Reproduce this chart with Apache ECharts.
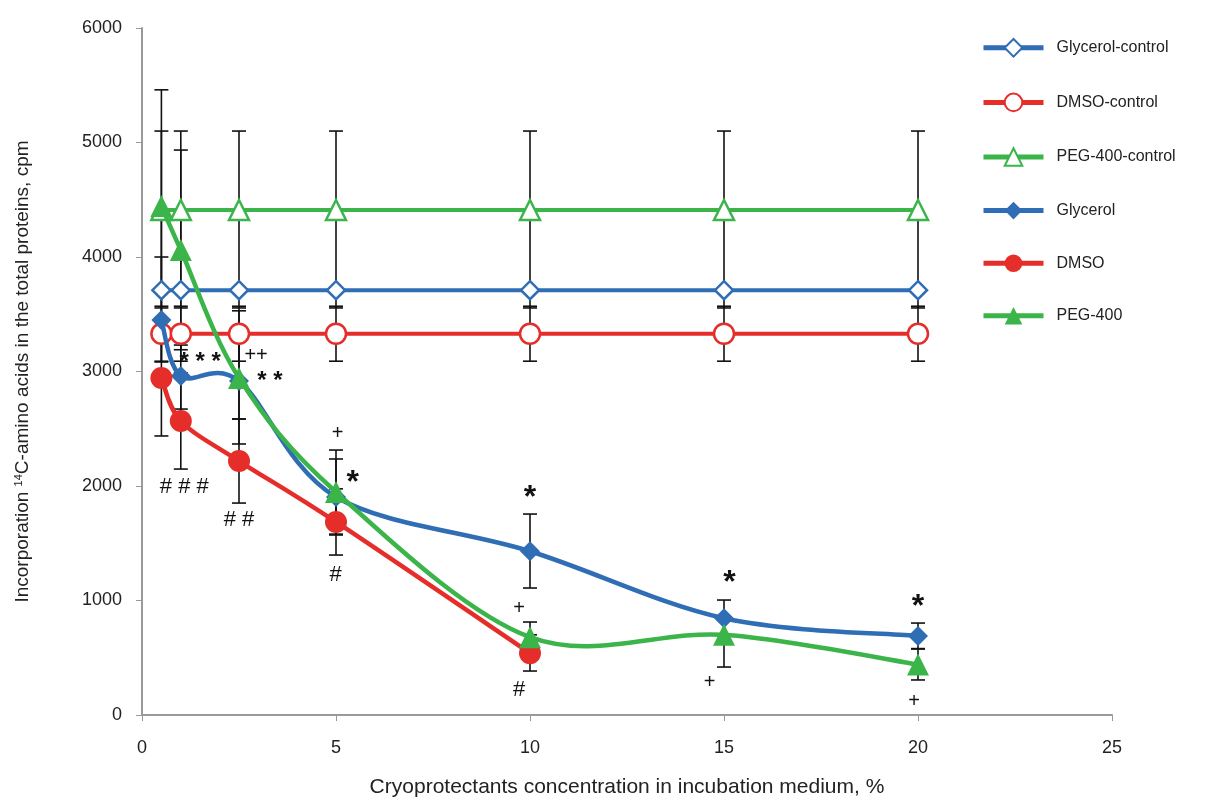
<!DOCTYPE html>
<html><head><meta charset="utf-8">
<script src="https://cdn.jsdelivr.net/npm/echarts@6/dist/echarts.min.js"></script>
<style>html,body{margin:0;padding:0;background:#fff}#c{width:1217px;height:803px}</style>
</head><body><div id="c"></div>
<script>
// ---- data ----
const xsAll = [0.5, 1, 2.5, 5, 10, 15, 20];
const xsDmso = [0.5, 1, 2.5, 5, 10];
const glycerolControl = [3710, 3710, 3710, 3710, 3710, 3710, 3710];
const dmsoControl = [3330, 3330, 3330, 3330, 3330, 3330, 3330];
const pegControl = [4410, 4410, 4410, 4410, 4410, 4410, 4410];
const glycerol = [3450, 2960, 2917, 1904, 1430, 845, 690];
const dmso = [2943, 2568, 2218, 1686, 540];
const peg = [4445, 4061, 2943, 1948, 680, 700, 440];

// error bars: [x, low, high]
const errGlycerolControl = [[0.5,3555,3710],[1,3555,3710],[2.5,3555,3710],[5,3555,3710],[10,3555,3710],[15,3555,3710],[20,3555,3710]];
const errDmsoControl = [[0.5,3090,3570],[1,3090,3570],[2.5,3090,3570],[5,3090,3570],[10,3090,3570],[15,3090,3570],[20,3090,3570]];
const errPegControl = [[0.5,3720,5100],[1,3720,5100],[2.5,3720,5100],[5,3720,5100],[10,3720,5100],[15,3720,5100],[20,3720,5100]];
const errGlycerol = [[0.5,3083,4000],[1,2672,3231],[2.5,2367,3530],[5,1572,2236],[10,1109,1755],[15,690,1004],[20,580,803]];
const errDmso = [[0.5,2437,3449],[1,2148,2988],[2.5,1851,2585],[5,1397,1975],[10,384,700]];
const errPeg = [[0.5,3430,5460],[1,3190,4934],[2.5,2585,3300],[5,1580,2314],[10,550,812],[15,419,840],[20,306,576]];

// significance annotations: [x, y, text, kind]
const annotations = [
  [1.5, 3083, '* * *', 'small'],
  [2.94, 3140, '++', 'plus'],
  [3.3, 2917, '* *', 'small'],
  [1.09, 1991, '# # #', 'hash'],
  [2.5, 1703, '# #', 'hash'],
  [5.04, 2463, '+', 'plus'],
  [5.43, 2026, '*', 'big'],
  [4.99, 1223, '#', 'hash'],
  [10.0, 1895, '*', 'big'],
  [9.72, 934, '+', 'plus'],
  [9.72, 218, '#', 'hash'],
  [15.14, 1153, '*', 'big'],
  [14.63, 288, '+', 'plus'],
  [20.0, 943, '*', 'big'],
  [19.9, 114, '+', 'plus']
];

const xTicks = [0, 5, 10, 15, 20, 25];
const yTicks = [0, 1000, 2000, 3000, 4000, 5000, 6000];

const BLUE = '#2f6db5', RED = '#e52d2a', GREEN = '#3bb44a';
const zip = (xs, ys) => xs.map((x, i) => [x, ys[i]]);

function errSeries(data) {
  return {
    type: 'custom', data: data, z: 1, silent: true, legendHoverLink: false,
    encode: {x: 0, y: [1, 2]},
    renderItem: function (params, api) {
      const x = api.value(0);
      const lo = api.coord([x, api.value(1)]);
      const hi = api.coord([x, api.value(2)]);
      const w = 7;
      const st = {stroke: '#111', lineWidth: 1.6};
      return {type: 'group', children: [
        {type: 'line', shape: {x1: lo[0], y1: lo[1], x2: hi[0], y2: hi[1]}, style: st},
        {type: 'line', shape: {x1: lo[0]-w, y1: lo[1], x2: lo[0]+w, y2: lo[1]}, style: st},
        {type: 'line', shape: {x1: hi[0]-w, y1: hi[1], x2: hi[0]+w, y2: hi[1]}, style: st}
      ]};
    }
  };
}

// smooth (Catmull-Rom style, like a spreadsheet's smoothed line) curve through the data points
function curveSeries(xs, ys, color, z) {
  return {
    type: 'custom', data: zip(xs, ys), z: z, silent: true, legendHoverLink: false,
    encode: {x: 0, y: 1},
    renderItem: function (params, api) {
      const i = params.dataIndex, n = xs.length;
      if (i >= n - 1) return null;
      const P = k => api.coord([xs[Math.max(0, Math.min(n - 1, k))], ys[Math.max(0, Math.min(n - 1, k))]]);
      const p0 = P(i - 1), p1 = P(i), p2 = P(i + 1), p3 = P(i + 2);
      const t = 1 / 6;
      return {type: 'bezierCurve', shape: {
        x1: p1[0], y1: p1[1], x2: p2[0], y2: p2[1],
        cpx1: p1[0] + (p2[0] - p0[0]) * t, cpy1: p1[1] + (p2[1] - p0[1]) * t,
        cpx2: p2[0] - (p3[0] - p1[0]) * t, cpy2: p2[1] - (p3[1] - p1[1]) * t
      }, style: {stroke: color, lineWidth: 4.5, fill: null, lineCap: 'round'}};
    }
  };
}

const fontSizes = {small: 24, big: 32, plus: 20, hash: 22};

const legendItem = (name, color) => ({name: name, lineStyle: {color: color, width: 5, opacity: 1}});

const chart = echarts.init(document.getElementById('c'), null, {renderer: 'canvas'});
chart.setOption({
  animation: false,
  backgroundColor: '#fff',
  grid: {left: 142, right: 105, top: 28, bottom: 88},
  legend: {
    orient: 'vertical', left: 976, top: 33, itemWidth: 60, itemHeight: 22, itemGap: 35,
    textStyle: {fontFamily: 'Liberation Sans, Arial', fontSize: 16, color: '#222', padding: [0,0,0,8]},
    data: [legendItem('Glycerol-control', BLUE), legendItem('DMSO-control', RED), legendItem('PEG-400-control', GREEN),
           legendItem('Glycerol', BLUE), legendItem('DMSO', RED), legendItem('PEG-400', GREEN)]
  },
  xAxis: {
    type: 'value', min: 0, max: 25, interval: 5,
    name: 'Cryoprotectants concentration in incubation medium, %',
    nameLocation: 'middle', nameGap: 62,
    nameTextStyle: {fontFamily: 'Liberation Sans, Arial', fontSize: 21, color: '#222'},
    axisLine: {lineStyle: {color: '#999', width: 2}},
    axisTick: {show: true, length: 6, lineStyle: {color: '#999'}},
    axisLabel: {fontFamily: 'Liberation Sans, Arial', fontSize: 18, color: '#222', margin: 24,
      formatter: v => xTicks.includes(v) ? String(v) : ''},
    splitLine: {show: false}
  },
  yAxis: {
    type: 'value', min: 0, max: 6000, interval: 1000,
    name: '{n|Incorporation }{s|14}{n|C-amino acids in the total proteins, cpm}',
    nameLocation: 'middle', nameGap: 110, nameRotate: 90,
    nameTextStyle: {rich: {
      n: {fontFamily: 'Liberation Sans, Arial', fontSize: 19, color: '#222'},
      s: {fontFamily: 'Liberation Sans, Arial', fontSize: 11, color: '#222', verticalAlign: 'top', padding: [0,0,8,0]}
    }},
    axisLine: {show: true, lineStyle: {color: '#999', width: 2}},
    axisTick: {show: true, length: 6, lineStyle: {color: '#999'}},
    axisLabel: {fontFamily: 'Liberation Sans, Arial', fontSize: 18, color: '#222', margin: 20,
      formatter: v => yTicks.includes(v) ? String(v) : ''},
    splitLine: {show: false}
  },
  series: [
    errSeries(errPegControl), errSeries(errGlycerolControl), errSeries(errDmsoControl),
    errSeries(errGlycerol), errSeries(errDmso), errSeries(errPeg),
    {name: 'Glycerol-control', type: 'line', z: 3, data: zip(xsAll, glycerolControl),
      symbol: 'diamond', symbolSize: 18, showAllSymbol: true,
      lineStyle: {color: BLUE, width: 4}, itemStyle: {color: '#fff', borderColor: BLUE, borderWidth: 2.5}},
    {name: 'DMSO-control', type: 'line', z: 3, data: zip(xsAll, dmsoControl),
      symbol: 'circle', symbolSize: 20, showAllSymbol: true,
      lineStyle: {color: RED, width: 4}, itemStyle: {color: '#fff', borderColor: RED, borderWidth: 2.5}},
    {name: 'PEG-400-control', type: 'line', z: 3, data: zip(xsAll, pegControl),
      symbol: 'triangle', symbolSize: 20, showAllSymbol: true,
      lineStyle: {color: GREEN, width: 4}, itemStyle: {color: '#fff', borderColor: GREEN, borderWidth: 2.5}},
    curveSeries(xsAll, glycerol, BLUE, 4),
    curveSeries(xsDmso, dmso, RED, 4),
    curveSeries(xsAll, peg, GREEN, 5),
    {name: 'Glycerol', type: 'line', z: 6, data: zip(xsAll, glycerol),
      symbol: 'diamond', symbolSize: 20, showAllSymbol: true,
      lineStyle: {color: BLUE, width: 4.5, opacity: 0}, itemStyle: {color: BLUE}},
    {name: 'DMSO', type: 'line', z: 6, data: zip(xsDmso, dmso),
      symbol: 'circle', symbolSize: 22, showAllSymbol: true,
      lineStyle: {color: RED, width: 4.5, opacity: 0}, itemStyle: {color: RED}},
    {name: 'PEG-400', type: 'line', z: 7, data: zip(xsAll, peg),
      symbol: 'triangle', symbolSize: 22, showAllSymbol: true,
      lineStyle: {color: GREEN, width: 4.5, opacity: 0}, itemStyle: {color: GREEN}},
    {type: 'custom', z: 8, silent: true, data: annotations,
      encode: {x: 0, y: 1},
      renderItem: function (params, api) {
        const a = annotations[params.dataIndex];
        const p = api.coord([a[0], a[1]]);
        return {type: 'text', x: p[0], y: p[1], style: {
          text: a[2], fill: '#111', align: 'center', verticalAlign: 'middle',
          font: ((a[3] === 'big' || a[3] === 'small') ? 'bold ' : '') + fontSizes[a[3]] + 'px "Liberation Sans", Arial'
        }};
      }
    }
  ]
});
</script>
</body></html>
